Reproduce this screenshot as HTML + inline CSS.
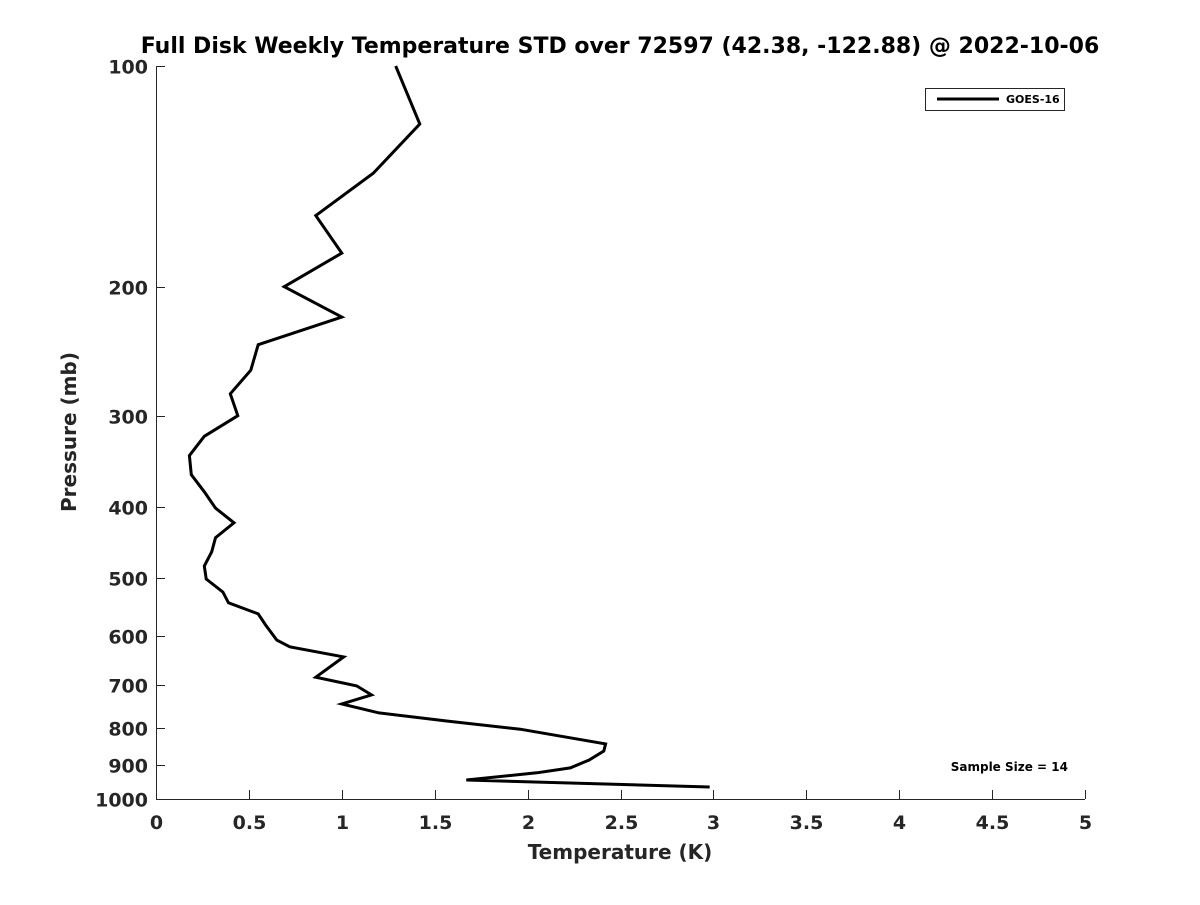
<!DOCTYPE html>
<html><head><meta charset="utf-8"><style>
body{margin:0;background:#fff;}
svg text{font-family:"DejaVu Sans","Liberation Sans",sans-serif;font-weight:bold;fill:#262626;}
</style></head><body>
<svg id="chart" width="1200" height="900" viewBox="0 0 1200 900" xmlns="http://www.w3.org/2000/svg">
<rect width="1200" height="900" fill="#fff"/>
<text x="620" y="53" text-anchor="middle" font-size="22" style="fill:#000">Full Disk Weekly Temperature STD over 72597 (42.38, -122.88) @ 2022-10-06</text>
<g id="axes"></g>
<g id="series"></g>
<text x="620" y="859" text-anchor="middle" font-size="20">Temperature (K)</text>
<text transform="translate(76,432) rotate(-90)" text-anchor="middle" font-size="20">Pressure (mb)</text>
<g>
<rect x="925.5" y="88.5" width="139" height="22" fill="#fff" stroke="#262626" stroke-width="1"/>
<line x1="937" y1="99" x2="999" y2="99" stroke="#000" stroke-width="3"/>
<text x="1006" y="103" font-size="11" style="fill:#000">GOES-16</text>
</g>
<text x="1068" y="771" text-anchor="end" font-size="12" style="fill:#000">Sample Size = 14</text>
</svg>
<script>
const xTicks=[0,0.5,1,1.5,2,2.5,3,3.5,4,4.5,5];
const yTicks=[100,200,300,400,500,600,700,800,900,1000];
const pressure=[100,120,140,160,180,200,220,240,260,280,300,320,340,361,381,401,420,440,460,481,501,522,540,559,579,607,620,640,682,701,721,742,763,783,803,841,860,885,907,921,942,963];
const goes16=[1.29,1.42,1.17,0.86,1.00,0.69,1.00,0.55,0.51,0.40,0.44,0.26,0.18,0.19,0.26,0.32,0.42,0.32,0.30,0.26,0.27,0.36,0.39,0.55,0.59,0.65,0.72,1.01,0.86,1.08,1.16,1.00,1.20,1.57,1.96,2.42,2.41,2.33,2.23,2.05,1.67,2.98];
const X0=156,X1=1085,Y0=66,Y1=799;
function xs(v){return X0+(v-0)/(5-0)*(X1-X0);}
function ys(p){return Y0+(Math.log10(p)-2)/(3-2)*(Y1-Y0);}
const NS="http://www.w3.org/2000/svg";
const axes=document.getElementById('axes');
function mk(tag,attrs,parent){const e=document.createElementNS(NS,tag);for(const k in attrs)e.setAttribute(k,attrs[k]);parent.appendChild(e);return e;}
const xl=mk('line',{x1:X0,y1:Y1+0.5,x2:X1,y2:Y1+0.5,stroke:'#262626','stroke-width':1},axes);


const yl=mk('line',{x1:X0+0.5,y1:Y0,x2:X0+0.5,y2:Y1,stroke:'#262626','stroke-width':1},axes);


xTicks.forEach(t=>{
 const x=Math.round(xs(t))+0.5;
 const tk=mk('line',{x1:x,y1:Y1,x2:x,y2:Y1-9,stroke:'#262626','stroke-width':1},axes);
 
 
 const tx=mk('text',{x:x,y:Y1+30,'text-anchor':'middle','font-size':19},axes);
 
 
 tx.textContent=String(t);
});
yTicks.forEach(t=>{
 const y=Math.round(ys(t))+0.5;
 const tk=mk('line',{x1:X0,y1:y,x2:X0+9,y2:y,stroke:'#262626','stroke-width':1},axes);
 
 
 const tx=mk('text',{x:X0-8,y:y+7,'text-anchor':'end','font-size':19},axes);
 
 
 tx.textContent=String(t);
});
const pts=pressure.map((p,i)=>xs(goes16[i]).toFixed(1)+','+ys(p).toFixed(1)).join(' ');
const pl=mk('polyline',{points:pts,fill:'none',stroke:'#000','stroke-width':3,'stroke-linejoin':'miter'},document.getElementById('series'));


</script>
</body></html>
